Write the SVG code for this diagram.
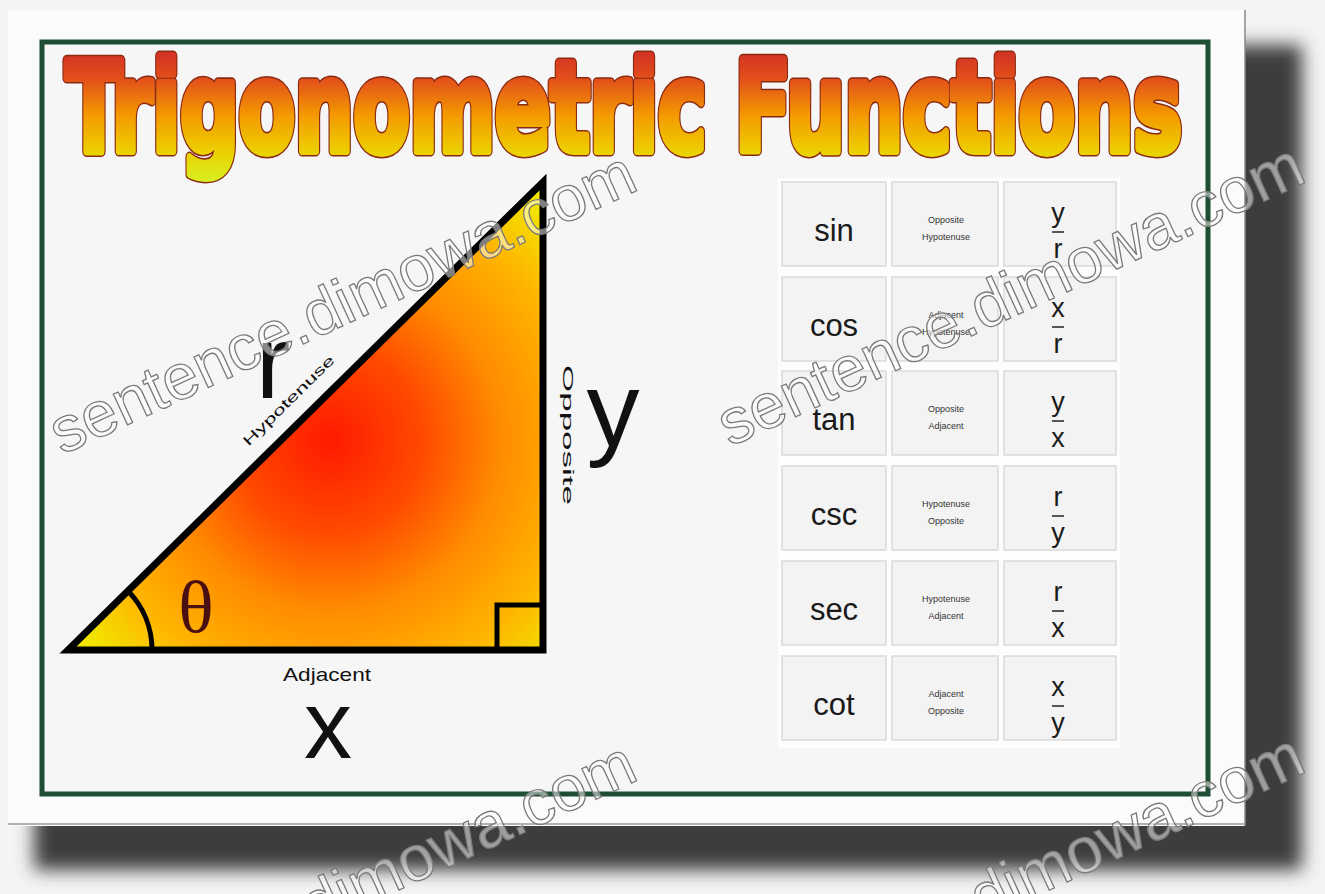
<svg xmlns="http://www.w3.org/2000/svg" width="1325" height="894" viewBox="0 0 1325 894">
<defs>
<style>
.lbl{font-family:"Liberation Sans",Arial,sans-serif;fill:#111}
.fn{font-family:"Liberation Sans",Arial,sans-serif;font-size:31px;fill:#1a1a1a;text-anchor:middle}
.ratio{font-family:"Liberation Sans",Arial,sans-serif;font-size:9px;fill:#333;text-anchor:middle}
.frac{font-family:"Liberation Sans",Arial,sans-serif;font-size:27px;fill:#1a1a1a;text-anchor:middle}
.cell{fill:#f3f3f3;stroke:#dadada;stroke-width:1.5}
.bar{stroke:#222;stroke-width:1.5}
.wm{font-family:"Liberation Sans",Arial,sans-serif;font-size:64px;fill:#ffffff;fill-opacity:0.5;stroke:#7a7a7a;stroke-width:1.3}
.ttl{font-family:"DejaVu Sans Condensed","DejaVu Sans",sans-serif;font-weight:bold;font-size:80px}
</style>
<linearGradient id="titleGrad" gradientUnits="objectBoundingBox" x1="0" y1="0" x2="0" y2="1">
<stop offset="0" stop-color="#c8202a"/>
<stop offset="0.3" stop-color="#e2501a"/>
<stop offset="0.55" stop-color="#f49a00"/>
<stop offset="0.8" stop-color="#ecd000"/>
<stop offset="1" stop-color="#d8ee20"/>
</linearGradient>
<radialGradient id="triGrad" gradientUnits="userSpaceOnUse" cx="330" cy="440" r="310">
<stop offset="0" stop-color="#ff1a00"/>
<stop offset="0.3" stop-color="#ff4a00"/>
<stop offset="0.55" stop-color="#ff8c00"/>
<stop offset="0.8" stop-color="#ffb400"/>
<stop offset="1" stop-color="#f2e400"/>
</radialGradient>
<filter id="blur" x="-10%" y="-10%" width="120%" height="120%">
<feGaussianBlur stdDeviation="9"/>
</filter>
</defs>

<rect x="0" y="0" width="1325" height="894" fill="#f4f4f4"/>

<g id="shadow">
<rect x="34" y="45" width="1268" height="825" fill="#3c3c3c" filter="url(#blur)"/>
</g>

<g id="paper">
<rect x="8" y="10" width="1237" height="816" fill="#fbfbfb"/>
<line x1="1245" y1="10" x2="1245" y2="826" stroke="#888" stroke-width="1.5"/>
<line x1="8" y1="824" x2="1245" y2="824" stroke="#999" stroke-width="1.5"/>
<rect x="42" y="42" width="1166" height="752" fill="#f7f6f7" stroke="#1d4d33" stroke-width="5"/>
</g>

<g id="title" transform="translate(66,151) scale(1,1.55)">
<text class="ttl" x="0" y="0" textLength="1116" lengthAdjust="spacingAndGlyphs" fill="none" stroke="#8a2a12" stroke-width="7" stroke-linejoin="round">Trigonometric Functions</text>
<text class="ttl" x="0" y="0" textLength="1116" lengthAdjust="spacingAndGlyphs" fill="url(#titleGrad)" stroke="url(#titleGrad)" stroke-width="5" stroke-linejoin="round">Trigonometric Functions</text>
</g>

<g id="triangle">
<polygon points="68,650 543,182 543,650" fill="url(#triGrad)" stroke="#000" stroke-width="7" stroke-linejoin="miter"/>
<path d="M152,650 A84,84 0 0 0 128,591" fill="none" stroke="#000" stroke-width="5"/>
<rect x="497" y="605" width="46" height="45" fill="none" stroke="#000" stroke-width="5"/>
<text x="196" y="632" font-family="'Liberation Serif','Times New Roman',serif" font-size="74" fill="#4a1010" text-anchor="middle">θ</text>
</g>

<g id="labels">
<text class="lbl" x="273" y="398" font-size="104" text-anchor="middle">r</text>
<text class="lbl" transform="translate(292,404) rotate(-44.6)" font-size="14" text-anchor="middle" textLength="122" lengthAdjust="spacingAndGlyphs">Hypotenuse</text>
<text class="lbl" transform="translate(563,435) rotate(90)" font-size="14" text-anchor="middle" textLength="140" lengthAdjust="spacingAndGlyphs">Opposite</text>
<text class="lbl" x="613" y="446" font-size="106" text-anchor="middle">y</text>
<text class="lbl" x="327" y="681" font-size="19" text-anchor="middle" textLength="88" lengthAdjust="spacingAndGlyphs">Adjacent</text>
<text class="lbl" x="328" y="758" font-size="96" text-anchor="middle">x</text>
</g>

<g id="table">
<rect x="778" y="178" width="342" height="570" fill="#fdfdfd"/>
<g id="row-sin">
<rect class="cell" x="782" y="182" width="104" height="84"/>
<rect class="cell" x="892" y="182" width="106" height="84"/>
<rect class="cell" x="1004" y="182" width="112" height="84"/>
<text class="fn" x="834" y="241">sin</text>
<text class="ratio" x="946" y="223">Opposite</text>
<text class="ratio" x="946" y="240">Hypotenuse</text>
<text class="frac" x="1058" y="222">y</text>
<line class="bar" x1="1052" y1="232" x2="1064" y2="232"/>
<text class="frac" x="1058" y="258">r</text>
</g>
<g id="row-cos">
<rect class="cell" x="782" y="277" width="104" height="84"/>
<rect class="cell" x="892" y="277" width="106" height="84"/>
<rect class="cell" x="1004" y="277" width="112" height="84"/>
<text class="fn" x="834" y="336">cos</text>
<text class="ratio" x="946" y="318">Adjacent</text>
<text class="ratio" x="946" y="335">Hypotenuse</text>
<text class="frac" x="1058" y="317">x</text>
<line class="bar" x1="1052" y1="327" x2="1064" y2="327"/>
<text class="frac" x="1058" y="353">r</text>
</g>
<g id="row-tan">
<rect class="cell" x="782" y="371" width="104" height="84"/>
<rect class="cell" x="892" y="371" width="106" height="84"/>
<rect class="cell" x="1004" y="371" width="112" height="84"/>
<text class="fn" x="834" y="430">tan</text>
<text class="ratio" x="946" y="412">Opposite</text>
<text class="ratio" x="946" y="429">Adjacent</text>
<text class="frac" x="1058" y="411">y</text>
<line class="bar" x1="1052" y1="421" x2="1064" y2="421"/>
<text class="frac" x="1058" y="447">x</text>
</g>
<g id="row-csc">
<rect class="cell" x="782" y="466" width="104" height="84"/>
<rect class="cell" x="892" y="466" width="106" height="84"/>
<rect class="cell" x="1004" y="466" width="112" height="84"/>
<text class="fn" x="834" y="525">csc</text>
<text class="ratio" x="946" y="507">Hypotenuse</text>
<text class="ratio" x="946" y="524">Opposite</text>
<text class="frac" x="1058" y="506">r</text>
<line class="bar" x1="1052" y1="516" x2="1064" y2="516"/>
<text class="frac" x="1058" y="542">y</text>
</g>
<g id="row-sec">
<rect class="cell" x="782" y="561" width="104" height="84"/>
<rect class="cell" x="892" y="561" width="106" height="84"/>
<rect class="cell" x="1004" y="561" width="112" height="84"/>
<text class="fn" x="834" y="620">sec</text>
<text class="ratio" x="946" y="602">Hypotenuse</text>
<text class="ratio" x="946" y="619">Adjacent</text>
<text class="frac" x="1058" y="601">r</text>
<line class="bar" x1="1052" y1="611" x2="1064" y2="611"/>
<text class="frac" x="1058" y="637">x</text>
</g>
<g id="row-cot">
<rect class="cell" x="782" y="656" width="104" height="84"/>
<rect class="cell" x="892" y="656" width="106" height="84"/>
<rect class="cell" x="1004" y="656" width="112" height="84"/>
<text class="fn" x="834" y="715">cot</text>
<text class="ratio" x="946" y="697">Adjacent</text>
<text class="ratio" x="946" y="714">Opposite</text>
<text class="frac" x="1058" y="696">x</text>
<line class="bar" x1="1052" y1="706" x2="1064" y2="706"/>
<text class="frac" x="1058" y="732">y</text>
</g>
</g>

<g id="watermarks">
<text class="wm" transform="translate(62,455) rotate(-24.7)">sentence.dimowa.com</text>
<text class="wm" transform="translate(730,447) rotate(-24.7)">sentence.dimowa.com</text>
<text class="wm" transform="translate(62,1045) rotate(-24.7)">sentence.dimowa.com</text>
<text class="wm" transform="translate(730,1037) rotate(-24.7)">sentence.dimowa.com</text>
</g>
</svg>
